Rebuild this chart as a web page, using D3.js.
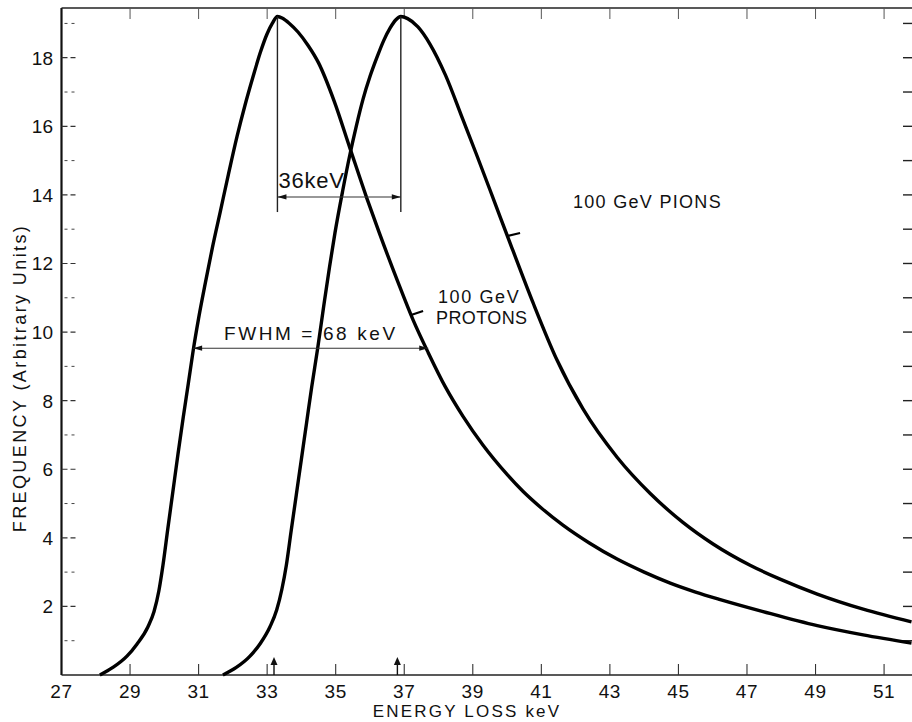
<!DOCTYPE html>
<html>
<head>
<meta charset="utf-8">
<script src="https://cdn.jsdelivr.net/npm/d3@7"></script>
<style>
  body { margin:0; background:#fff; }
  text { font-family:"Liberation Sans", Arial, sans-serif; fill:#111; }
</style>
</head>
<body>
<svg id="chart" width="912" height="722"></svg>
<script>
// energy loss (keV) and frequency
var protonX=[28.12,28.5,28.91,29.2,29.52,29.7,29.84,29.96,30.1,30.25,30.4,30.55,30.7,30.84,31.0,31.2,31.4,31.63,
             31.87,32.12,32.35,32.59,32.8,33.0,33.15,33.3,33.45,33.65,33.9,34.2,34.5,34.95,35.42,35.91,36.27,36.8,37.26,37.7,
             38.2,38.71,39.3,40.0,40.47,41.0,41.63,42.4,43.21,44.0,44.76,45.5,46.22,47.47,49.05,50.39,51.8];
var protonY=[0,0.22,0.55,0.9,1.4,1.85,2.45,3.2,4.25,5.35,6.45,7.5,8.5,9.45,10.4,11.45,12.45,13.5,
             14.6,15.7,16.6,17.45,18.15,18.7,19.0,19.2,19.15,19.0,18.75,18.35,17.85,16.75,15.35,13.9,12.9,11.5,10.35,9.4,
             8.4,7.55,6.7,5.85,5.35,4.87,4.37,3.85,3.38,3.0,2.68,2.42,2.2,1.85,1.44,1.17,0.93];

var pionX=[31.71,32.1,32.5,32.8,33.08,33.28,33.43,33.56,33.7,33.85,34.0,34.15,34.3,34.47,34.65,34.82,34.98,35.2,35.42,
           35.6,35.8,36.0,36.2,36.4,36.59,36.75,36.9,37.1,37.4,37.75,38.2,38.71,39.1,39.5,39.8,40.17,40.76,41.45,42.22,
           43.21,44.17,45.13,46.01,47.09,48.0,49.05,50.39,51.8];
var pionY=[0,0.22,0.55,0.92,1.4,1.9,2.5,3.2,4.2,5.25,6.3,7.35,8.4,9.5,10.75,11.9,12.9,14.1,15.2,
           16.0,16.8,17.45,18.0,18.5,18.87,19.1,19.2,19.14,18.9,18.4,17.5,16.2,15.2,14.15,13.35,12.38,10.85,9.2,7.75,
           6.35,5.3,4.45,3.82,3.2,2.78,2.36,1.92,1.55];

var xTicks=[27,29,31,33,35,37,39,41,43,45,47,49,51];
var yTicks=[2,4,6,8,10,12,14,16,18];
var yMinor=[1,3,5,7,9,11,13,15,17,19];

var peakX=[33.3,36.9];          // vertical marks at the two peaks
var peakBottom=13.5;
var sepLevel=13.94;             // "36keV" dimension line
var fwhmX=[30.84,37.7];
var fwhmLevel=9.53;
var arrowX=[33.2,36.8];         // small arrows on the energy axis

var svg=d3.select("#chart");
var x=d3.scaleLinear().domain([27,51.8]).range([61.5,911.5]);
var y=d3.scaleLinear().domain([0,19.45]).range([675,8]);

function arrowHead(px,py,dir) {
  // filled triangle, tip at (px,py), dir=-1 points left, 1 right
  var l=9, w=2.6;
  return "M"+px+","+py+"L"+(px-dir*l)+","+(py-w)+"L"+(px-dir*l)+","+(py+w)+"Z";
}

// frame
svg.append("line").attr("x1",x(27)).attr("x2",x(27)).attr("y1",y(19.45)).attr("y2",y(0))
   .attr("stroke","#111").attr("stroke-width",2.2);
svg.append("line").attr("x1",x(27)).attr("x2",912).attr("y1",y(0)).attr("y2",y(0))
   .attr("stroke","#222").attr("stroke-width",1.6);
svg.append("line").attr("x1",x(27)).attr("x2",912).attr("y1",y(19.45)).attr("y2",y(19.45))
   .attr("stroke","#222").attr("stroke-width",1.4);

// left ticks (inward)
svg.selectAll(".ymaj").data(yTicks).enter().append("line")
   .attr("x1",x(27)).attr("x2",x(27)+14)
   .attr("y1",function(d){return y(d);}).attr("y2",function(d){return y(d);})
   .attr("stroke","#333").attr("stroke-width",1.2).attr("stroke-dasharray","6,3");
svg.selectAll(".ymin").data(yMinor).enter().append("line")
   .attr("x1",x(27)+3).attr("x2",x(27)+14)
   .attr("y1",function(d){return y(d);}).attr("y2",function(d){return y(d);})
   .attr("stroke","#444").attr("stroke-width",1).attr("stroke-dasharray","3,4");
// right ticks
svg.selectAll(".yr").data(yMinor.concat(yTicks)).enter().append("line")
   .attr("x1",903).attr("x2",912)
   .attr("y1",function(d){return y(d);}).attr("y2",function(d){return y(d);})
   .attr("stroke","#222").attr("stroke-width",1.4);
// bottom and top ticks
svg.selectAll(".xb").data(xTicks.slice(1)).enter().append("line")
   .attr("x1",function(d){return x(d);}).attr("x2",function(d){return x(d);})
   .attr("y1",y(0)).attr("y2",y(0)-11)
   .attr("stroke","#333").attr("stroke-width",1.1);
svg.selectAll(".xt").data(xTicks.slice(1)).enter().append("line")
   .attr("x1",function(d){return x(d);}).attr("x2",function(d){return x(d);})
   .attr("y1",y(19.45)).attr("y2",y(19.45)+11)
   .attr("stroke","#555").attr("stroke-width",1);

// tick labels
svg.selectAll(".xl").data(xTicks).enter().append("text")
   .attr("x",function(d){return x(d);}).attr("y",698)
   .attr("text-anchor","middle").style("font-size","19px").style("letter-spacing","0.6px")
   .text(function(d){return d;});
svg.selectAll(".yl").data(yTicks).enter().append("text")
   .attr("x",53).attr("y",function(d){return y(d)+7;})
   .attr("text-anchor","end").style("font-size","19px")
   .text(function(d){return d;});

// axis titles
svg.append("text").attr("x",467).attr("y",717).attr("text-anchor","middle")
   .style("font-size","17px").style("letter-spacing","2.2px")
   .text("ENERGY LOSS  keV");
svg.append("text").attr("transform","translate(26,378) rotate(-90)").attr("text-anchor","middle")
   .style("font-size","18px").style("letter-spacing","2.4px")
   .text("FREQUENCY  (Arbitrary Units)");

// curves
var line=d3.line()
   .x(function(d){return x(d[0]);})
   .y(function(d){return y(d[1]);})
   .curve(d3.curveMonotoneX);

svg.append("path").attr("d",line(d3.zip(protonX,protonY)))
   .attr("fill","none").attr("stroke","#000").attr("stroke-width",3.4);
svg.append("path").attr("d",line(d3.zip(pionX,pionY)))
   .attr("fill","none").attr("stroke","#000").attr("stroke-width",3.4);

// peak separation marks
svg.selectAll(".pk").data(peakX).enter().append("line")
   .attr("x1",function(d){return x(d);}).attr("x2",function(d){return x(d);})
   .attr("y1",y(19.2)).attr("y2",y(peakBottom))
   .attr("stroke","#222").attr("stroke-width",1.4);
svg.append("line").attr("x1",x(peakX[0])).attr("x2",x(peakX[1]))
   .attr("y1",y(sepLevel)).attr("y2",y(sepLevel))
   .attr("stroke","#333").attr("stroke-width",1.1);
svg.append("path").attr("d",arrowHead(x(peakX[0]),y(sepLevel),-1)).attr("fill","#111");
svg.append("path").attr("d",arrowHead(x(peakX[1]),y(sepLevel),1)).attr("fill","#111");
svg.append("text").attr("x",x(peakX[0])+1).attr("y",y(sepLevel)-9)
   .style("font-size","22px").style("letter-spacing","0.8px").text("36keV");

// FWHM
svg.append("line").attr("x1",x(fwhmX[0])).attr("x2",x(fwhmX[1]))
   .attr("y1",y(fwhmLevel)).attr("y2",y(fwhmLevel))
   .attr("stroke","#333").attr("stroke-width",1.1);
svg.append("path").attr("d",arrowHead(x(fwhmX[0]),y(fwhmLevel),-1)).attr("fill","#111");
svg.append("path").attr("d",arrowHead(x(fwhmX[1]),y(fwhmLevel),1)).attr("fill","#111");
svg.append("text").attr("x",224).attr("y",y(fwhmLevel)-8)
   .style("font-size","19px").style("letter-spacing","2.6px").text("FWHM = 68 keV");

// series labels and their pointers
svg.append("line").attr("x1",x(37.2)).attr("y1",y(10.5)).attr("x2",x(37.2)+12).attr("y2",y(10.5)-4)
   .attr("stroke","#000").attr("stroke-width",2.2);
svg.append("text").attr("x",438).attr("y",303).style("font-size","18px").style("letter-spacing","1.6px").text("100 GeV");
svg.append("text").attr("x",436).attr("y",324).style("font-size","18px").style("letter-spacing","0.4px").text("PROTONS");

svg.append("line").attr("x1",x(40.0)).attr("y1",y(12.8)).attr("x2",x(40.0)+13).attr("y2",y(12.8)-3)
   .attr("stroke","#000").attr("stroke-width",2.2);
svg.append("text").attr("x",573).attr("y",208).style("font-size","18px").style("letter-spacing","1.3px")
   .text("100 GeV  PIONS");

// small arrows on the energy axis
svg.selectAll(".ax").data(arrowX).enter().append("line")
   .attr("x1",function(d){return x(d);}).attr("x2",function(d){return x(d);})
   .attr("y1",y(0)).attr("y2",y(0)-14)
   .attr("stroke","#111").attr("stroke-width",1.4);
svg.selectAll(".ah").data(arrowX).enter().append("path")
   .attr("d",function(d){
      var px=x(d), py=y(0)-18;
      return "M"+px+","+py+"L"+(px-3.5)+","+(py+8)+"L"+(px+3.5)+","+(py+8)+"Z";
   })
   .attr("fill","#111");
</script>
</body>
</html>
